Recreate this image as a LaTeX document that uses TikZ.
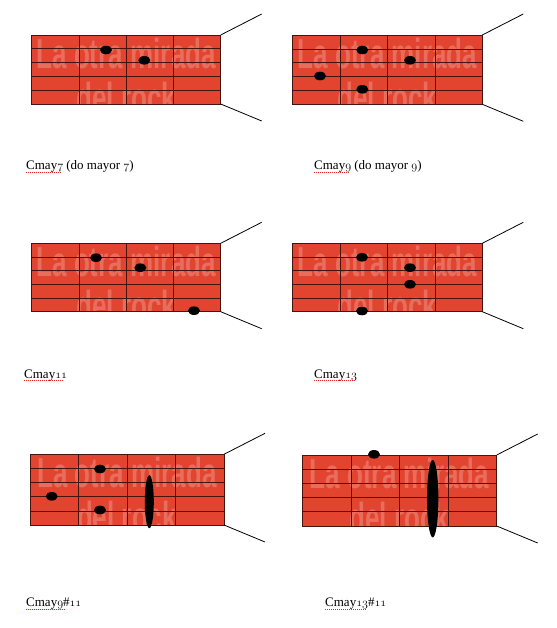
\documentclass[tikz,border=0pt]{standalone}
\usepackage{fontspec}
\setmainfont{Liberation Serif}
\newfontfamily\wmfont{Liberation Sans}
\newcommand\osf[1]{{\usefont{OML}{cmm}{m}{it}#1}}
\definecolor{fretred}{RGB}{226,68,48}
\definecolor{fretline}{RGB}{70,20,15}
\definecolor{spellred}{RGB}{215,40,40}
\tikzset{
  fret/.style={draw=fretline,line width=0.7pt},
  neck/.style={draw=black,line width=0.8pt},
  dot/.style={fill=black},
  chordlabel/.style={anchor=base west,inner sep=0pt,font=\fontsize{13}{15}\selectfont},
  spell/.style={draw=spellred,line width=0.7pt,dash pattern=on 1pt off 1pt},
  watermark/.style={text=white,opacity=0.22,font=\wmfont\bfseries\fontsize{42}{42}\selectfont,inner sep=0pt,xscale=0.62}
}
\newcommand\board[5]{%
  \begin{scope}[shift={(#1,#2)}]
    \fill[fretred] (0,0) rectangle (#3,#4);
    \node[watermark] (#5wa) at ({#3/2},18) {La otra mirada};
    \node[watermark] (#5wb) at ({#3/2},62) {del rock};
    \foreach \i in {1,2,3} \draw[fret] ({#3*\i/4},0) -- ({#3*\i/4},#4);
    \foreach \j in {1,...,4} \draw[fret] (0,{#4*\j/5}) -- (#3,{#4*\j/5});
    \draw[fret] (0,0) rectangle (#3,#4);
    \coordinate (#5tr) at (#3,0);
    \coordinate (#5br) at (#3,#4);
    \coordinate (#5te) at ({#3+41},-21);
    \coordinate (#5be) at ({#3+41},{#4+17});
    \draw[neck] (#5tr) -- (#5te);
    \draw[neck] (#5br) -- (#5be);
  \end{scope}}
\begin{document}
\begin{tikzpicture}[x=1pt,y=-1pt]
\useasboundingbox (0,0) rectangle (556,628);
% boards
\board{31.7}{35}{189}{69}{a}
\board{292.7}{35}{189.6}{69.3}{b}
\board{31.7}{243.3}{189}{68.4}{c}
\board{292.7}{243.3}{189.6}{68.4}{d}
\board{30}{454.3}{194}{70.7}{e}
\board{302.3}{455}{194.4}{71}{f}
% dots
\fill[dot] (106,50) ellipse (6 and 4.3);
\fill[dot] (144.3,60.3) ellipse (6 and 4.3);
\fill[dot] (362.3,50) ellipse (6 and 4.3);
\fill[dot] (410,60.3) ellipse (6 and 4.3);
\fill[dot] (320,76) ellipse (6 and 4.3);
\fill[dot] (362.3,89.3) ellipse (6 and 4.3);
\fill[dot] (96,257.7) ellipse (6 and 4.3);
\fill[dot] (140.3,267.7) ellipse (6 and 4.3);
\fill[dot] (194,310.7) ellipse (6 and 4.3);
\fill[dot] (362,257.3) ellipse (6 and 4.3);
\fill[dot] (410,267.7) ellipse (6 and 4.3);
\fill[dot] (410,284.3) ellipse (6 and 4.3);
\fill[dot] (362,311) ellipse (6 and 4.3);
\fill[dot] (100,469) ellipse (6 and 4.3);
\fill[dot] (51.7,496.3) ellipse (6 and 4.3);
\fill[dot] (100,510) ellipse (6 and 4.3);
\fill[dot] (149.3,501.7) ellipse (4.5 and 26.5);
\fill[dot] (374,454.3) ellipse (6 and 4.3);
\fill[dot] (432.7,498.7) ellipse (5.7 and 38.7);
% labels
\node[chordlabel] (l1) at (26,170) {Cmay\osf{7} (do mayor \osf{7})};
\node[chordlabel] (l2) at (314,170) {Cmay\osf{9} (do mayor \osf{9})};
\node[chordlabel] (l3) at (24,378) {Cmay\osf{11}};
\node[chordlabel] (l4) at (314,378) {Cmay\osf{13}};
\node[chordlabel] (l5) at (26,606.5) {Cmay\osf{9}\#\osf{11}};
\node[chordlabel] (l6) at (325,606.5) {Cmay\osf{13}\#\osf{11}};
% spell-check underlines
\draw[spell] (26,172.5) -- (62,172.5);
\draw[spell] (314,172.5) -- (350,172.5);
\draw[spell] (24,380.5) -- (62.5,380.5);
\draw[spell] (314,380.5) -- (355,380.5);
\draw[spell] (26,609) -- (65,609);
\draw[spell] (325,609) -- (366.5,609);
\end{tikzpicture}
\end{document}
